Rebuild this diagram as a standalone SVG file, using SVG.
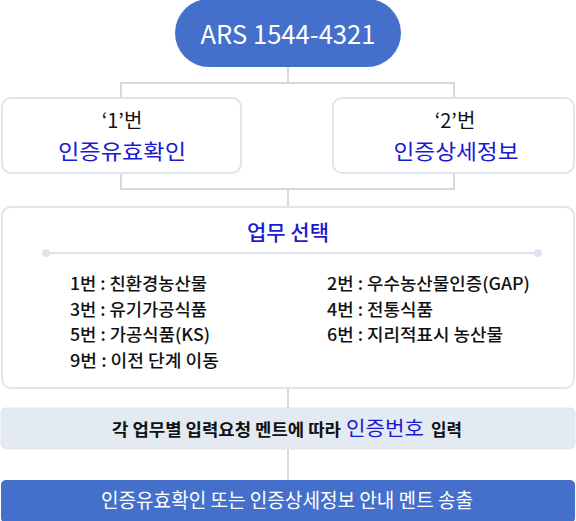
<svg xmlns="http://www.w3.org/2000/svg" width="576" height="521" viewBox="0 0 576 521">
<style>
.ko{font-family:"Noto Sans CJK KR","Noto Sans",sans-serif}
.box{fill:#ffffff;stroke:#dfe5ef;stroke-width:2}
.conn{fill:none;stroke:#d9d9d9;stroke-width:2}
.blue{fill:#1a1ad0}
.dark{fill:#111111}
.item{font-size:17px;fill:#111111;font-weight:500}
</style>
<rect width="576" height="521" fill="#ffffff"/>
<g id="connectors">
<path class="conn" d="M288 67V83M121 98V83H454V98"/>
<path class="conn" d="M121 173V189H454V173M288 189V207"/>
<path class="conn" d="M288 388V408M288 449V480"/>
</g>
<g id="ars">
<rect x="175" y="-1" width="226" height="68" rx="34" fill="#4470cb"/>
<text x="288" y="44" text-anchor="middle" class="ko" font-size="26" fill="#ffffff" textLength="175" lengthAdjust="spacingAndGlyphs">ARS 1544-4321</text>
</g>
<g id="opt1">
<rect class="box" x="2" y="98" width="239" height="75" rx="9"/>
<text x="122" y="128" text-anchor="middle" class="ko dark" font-size="20">‘1’번</text>
<text x="122" y="159" text-anchor="middle" class="ko blue" font-size="21" textLength="128" lengthAdjust="spacingAndGlyphs">인증유효확인</text>
</g>
<g id="opt2">
<rect class="box" x="333" y="98" width="241" height="75" rx="9"/>
<text x="455" y="128" text-anchor="middle" class="ko dark" font-size="20">‘2’번</text>
<text x="456" y="159" text-anchor="middle" class="ko blue" font-size="21" textLength="125" lengthAdjust="spacingAndGlyphs">인증상세정보</text>
</g>
<g id="select">
<rect class="box" x="2" y="207" width="572" height="181" rx="9"/>
<text x="288" y="240" text-anchor="middle" class="ko blue" font-size="21" font-weight="500">업무 선택</text>
<line x1="46" y1="253" x2="538" y2="253" stroke="#dde4f0" stroke-width="2"/>
<circle cx="46" cy="253" r="4" fill="#dde4f0"/>
<circle cx="538" cy="253" r="4" fill="#dde4f0"/>
<text class="ko item" x="70" y="290" textLength="137" lengthAdjust="spacingAndGlyphs">1번 : 친환경농산물</text>
<text class="ko item" x="70" y="316" textLength="137" lengthAdjust="spacingAndGlyphs">3번 : 유기가공식품</text>
<text class="ko item" x="70" y="341" textLength="140" lengthAdjust="spacingAndGlyphs">5번 : 가공식품(KS)</text>
<text class="ko item" x="70" y="367" textLength="149" lengthAdjust="spacingAndGlyphs">9번 : 이전 단계 이동</text>
<text class="ko item" x="327" y="290" textLength="203" lengthAdjust="spacingAndGlyphs">2번 : 우수농산물인증(GAP)</text>
<text class="ko item" x="327" y="316" textLength="106" lengthAdjust="spacingAndGlyphs">4번 : 전통식품</text>
<text class="ko item" x="327" y="341" textLength="176" lengthAdjust="spacingAndGlyphs">6번 : 지리적표시 농산물</text>
</g>
<g id="input">
<rect x="1" y="408" width="574" height="41" rx="5" fill="#e4eaf2" stroke="#dfe5ef" stroke-width="1"/>
<text x="112" y="436" class="ko dark" font-size="17" font-weight="700" textLength="229" lengthAdjust="spacingAndGlyphs">각 업무별 입력요청 멘트에 따라</text>
<text x="346" y="436" class="ko blue" font-size="20" textLength="78" lengthAdjust="spacingAndGlyphs">인증번호</text>
<text x="431" y="436" class="ko dark" font-size="17" font-weight="700" textLength="31" lengthAdjust="spacingAndGlyphs">입력</text>
</g>
<g id="result">
<rect x="1" y="480" width="574" height="43" rx="5" fill="#4470cb"/>
<text x="101" y="508" class="ko" font-size="20" fill="#ffffff" textLength="372" lengthAdjust="spacingAndGlyphs">인증유효확인 또는 인증상세정보 안내 멘트 송출</text>
</g>
</svg>
